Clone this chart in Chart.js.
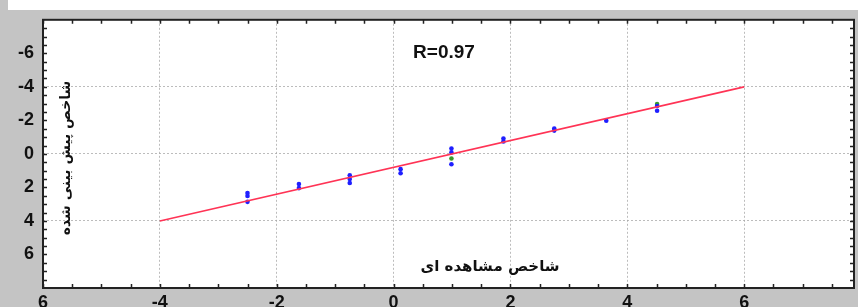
<!DOCTYPE html>
<html>
<head>
<meta charset="utf-8">
<script src="https://cdn.jsdelivr.net/npm/chart.js@4.4.1/dist/chart.umd.min.js"></script>
<style>
  html, body { margin: 0; padding: 0; background: #fff; overflow: hidden; }
  #wrap { width: 858px; height: 315px; }
</style>
</head>
<body>
<div id="wrap"><canvas id="scatter-chart"></canvas></div>
<script>
// observed index (x) vs predicted index (y)
const observed  = [-2.5, -2.5, -2.5, -1.62, -1.62, -0.75, -0.75, -0.75, 0.12, 0.12,
                   0.99, 0.99, 0.99, 1.88, 1.88, 2.75, 2.75, 3.64, 4.51, 4.51];
const predicted = [2.33, 2.51, 2.86, 1.80, 2.04, 1.27, 1.50, 1.74, 0.91, 1.15,
                   -0.32, -0.09, 0.62, -0.92, -0.74, -1.51, -1.39, -1.98, -2.86, -2.57];
const observedGreen  = [0.99, 4.51];
const predictedGreen = [0.27, -2.98];
const fitX = [-4, 6];
const fitY = [4, -4];
const xTickLabels = { "-6": "6", "-4": "-4", "-2": "-2", "0": "0", "2": "2", "4": "4", "6": "6" };
const yTickLabels = { "-6": "-6", "-4": "-4", "-2": "-2", "0": "0", "2": "2", "4": "4", "6": "6" };
const rLabel = "R=0.97";
const xTitle = "شاخص مشاهده ای";
const yTitle = "شاخص پیش بینی شده";

function pairs(xs, ys) {
    return xs.map((x, i) => ({ x: x, y: ys[i] }));
}

const isMult = (v, m) => Math.abs(v / m - Math.round(v / m)) < 1e-6;
const gridGray = "rgba(165,165,165,0.75)";

const decor = {
    id: "decor",
    beforeDraw(chart) {
        const ctx = chart.ctx, a = chart.chartArea;
        ctx.save();
        ctx.fillStyle = "#c4c4c4";
        ctx.fillRect(0, 10, chart.width, chart.height);
        ctx.fillRect(0, 0, 8, 10);
        ctx.fillStyle = "#fff";
        ctx.fillRect(a.left, a.top, a.right - a.left, a.bottom - a.top);
        ctx.restore();
    },
    afterDatasetsDraw(chart) {
        const ctx = chart.ctx, a = chart.chartArea;
        const xs = chart.scales.x, ys = chart.scales.y;
        ctx.save();
        // frame
        ctx.strokeStyle = "#222";
        ctx.lineWidth = 2;
        ctx.strokeRect(a.left, a.top, a.right - a.left, a.bottom - a.top);
        // inner tick marks every 0.5
        ctx.lineWidth = 1.5;
        ctx.beginPath();
        for (let v = -6; v <= xs.max; v += 0.5) {
            const px = Math.round(xs.getPixelForValue(v)) + 0.5;
            ctx.moveTo(px, a.bottom); ctx.lineTo(px, a.bottom - 4);
            ctx.moveTo(px, a.top); ctx.lineTo(px, a.top + 4);
        }
        for (let v = -7.5; v <= 7.5; v += 0.5) {
            const py = Math.round(ys.getPixelForValue(v)) + 0.5;
            ctx.moveTo(a.left, py); ctx.lineTo(a.left + 4, py);
            ctx.moveTo(a.right, py); ctx.lineTo(a.right - 4, py);
        }
        ctx.stroke();
        // texts
        ctx.fillStyle = "#111";
        ctx.textAlign = "center";
        ctx.textBaseline = "middle";
        ctx.font = "bold 19px 'Liberation Sans', Arial, sans-serif";
        ctx.fillText(rLabel, 444, 53);
        ctx.font = "bold 15px 'DejaVu Sans', sans-serif";
        ctx.direction = "rtl";
        ctx.fillText(xTitle, 490, 267);
        ctx.translate(66, 158);
        ctx.rotate(-Math.PI / 2);
        ctx.font = "bold 14px 'DejaVu Sans', sans-serif";
        ctx.fillText(yTitle, 0, 0);
        ctx.restore();
    }
};

const ctx = document.getElementById("scatter-chart").getContext("2d");

new Chart(ctx, {
    type: "scatter",
    data: {
        datasets: [
            {
                type: "line",
                label: "fit",
                data: pairs(fitX, fitY),
                borderColor: "#ff3355",
                borderWidth: 1.6,
                pointRadius: 0,
                fill: false
            },
            {
                label: "observed",
                data: pairs(observed, predicted),
                backgroundColor: "#1f1fff",
                borderColor: "#1f1fff",
                pointRadius: 2.3,
                borderWidth: 0
            },
            {
                label: "green",
                data: pairs(observedGreen, predictedGreen),
                backgroundColor: "#3a9a2a",
                borderColor: "#3a9a2a",
                pointRadius: 2.3,
                borderWidth: 0
            }
        ]
    },
    options: {
        responsive: true,
        maintainAspectRatio: false,
        animation: false,
        layout: { padding: { top: 17, left: 0, right: 0, bottom: 0 } },
        plugins: {
            legend: { display: false },
            tooltip: { enabled: false }
        },
        scales: {
            x: {
                type: "linear",
                min: -6,
                max: 7.88,
                afterFit: (s) => { s.height = 27; },
                border: { display: false, dash: [2, 2] },
                grid: {
                    drawTicks: false,
                    color: (c) => (c.tick && isMult(c.tick.value, 2) && c.tick.value > -6) ? gridGray : "rgba(0,0,0,0)",
                    lineWidth: 1
                },
                ticks: {
                    stepSize: 0.5,
                    autoSkip: false,
                    maxRotation: 0,
                    padding: 4,
                    color: "#111",
                    font: { family: "'Liberation Sans', Arial, sans-serif", size: 18, weight: "bold" },
                    callback: (v) => xTickLabels[String(v)] || ""
                }
            },
            y: {
                type: "linear",
                reverse: true,
                min: -8,
                max: 8,
                afterFit: (s) => { s.width = 43; },
                border: { display: false, dash: [2, 2] },
                grid: {
                    drawTicks: false,
                    color: (c) => (c.tick && isMult(c.tick.value, 4) && Math.abs(c.tick.value) < 8) ? gridGray : "rgba(0,0,0,0)",
                    lineWidth: 1
                },
                ticks: {
                    stepSize: 0.5,
                    autoSkip: false,
                    padding: 9,
                    color: "#111",
                    font: { family: "'Liberation Sans', Arial, sans-serif", size: 18, weight: "bold" },
                    callback: (v) => yTickLabels[String(v)] || ""
                }
            }
        }
    },
    plugins: [decor]
});
</script>
</body>
</html>
